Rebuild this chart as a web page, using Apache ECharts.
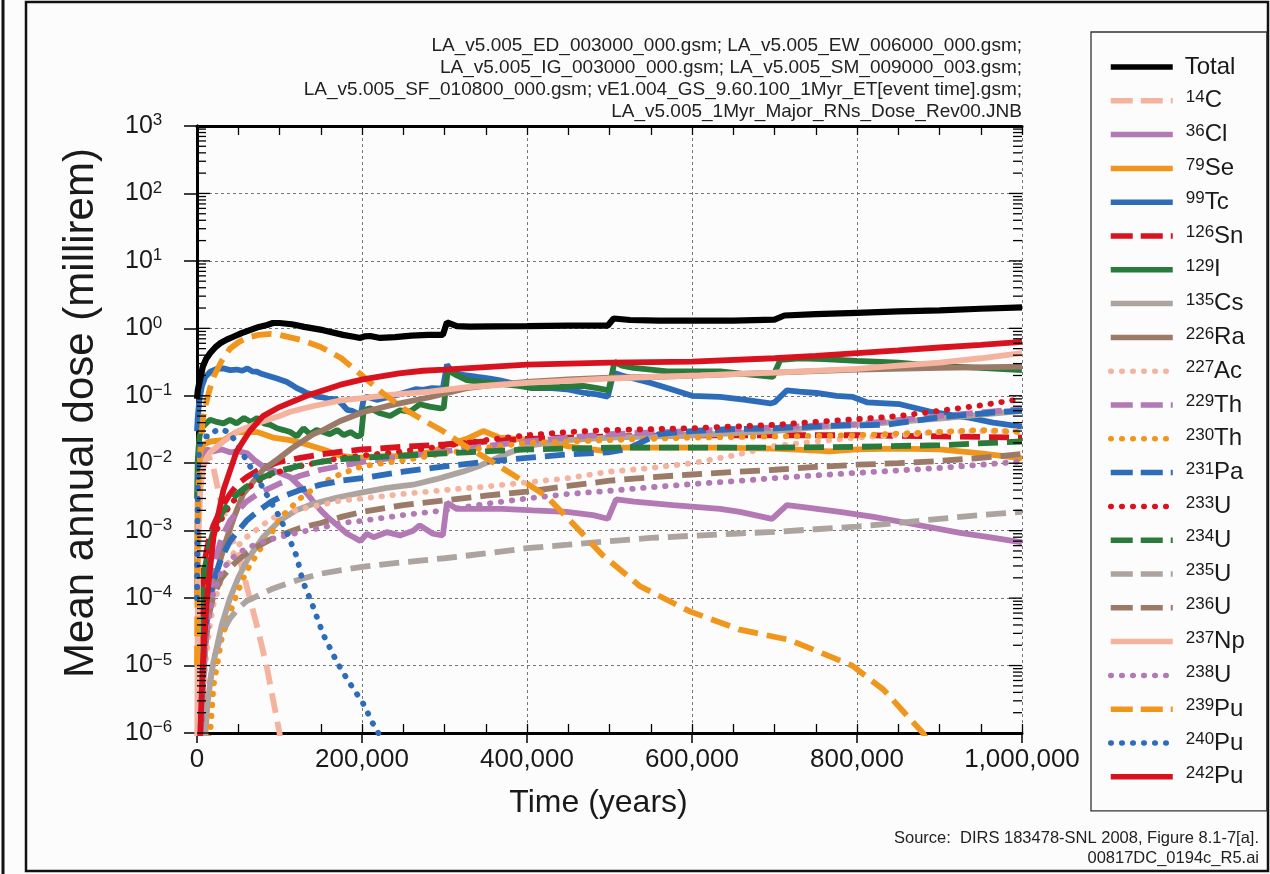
<!DOCTYPE html>
<html>
<head>
<meta charset="utf-8">
<script src="https://cdn.jsdelivr.net/npm/echarts@6/dist/echarts.min.js"></script>
<style>
  html, body { margin: 0; padding: 0; background: #fcfcfc; }
  #chart { width: 1270px; height: 874px; }
</style>
</head>
<body>
<div id="chart"></div>
<script>
// time (years), dose (millirem) pairs
const total = [[0,0.09],[1000,0.12],[2000,0.14],[3600,0.17],[7000,0.27],[11000,0.35],[16000,0.43],[22000,0.52],[28000,0.6],[36000,0.68],[44000,0.75],[54000,0.85],[64000,0.94],[75000,1.05],[85000,1.12],[92000,1.2],[100000,1.2],[115000,1.15],[130000,1.05],[153000,0.94],[177000,0.8],[190000,0.75],[198000,0.72],[203000,0.76],[210000,0.77],[222000,0.72],[240000,0.74],[260000,0.78],[280000,0.8],[298000,0.8],[303000,1.23],[315000,1.08],[330000,1.06],[360000,1.07],[400000,1.08],[450000,1.1],[498000,1.1],[505000,1.4],[525000,1.33],[560000,1.3],[600000,1.3],[650000,1.3],[700000,1.35],[712000,1.55],[750000,1.62],[800000,1.7],[850000,1.78],[900000,1.85],[950000,1.95],[1000000,2.05]];
const c14 = [[0,1e-4],[1000,0.006],[2000,0.012],[4000,0.016],[7000,0.016],[10000,0.015],[15000,0.012],[20000,0.0085],[28000,0.0029],[40000,9.3e-4],[52000,3.7e-4],[64000,1e-4],[75000,3e-5],[85000,9e-6],[100000,1e-6],[110000,1.5e-7]];
const cl36 = [[0,1e-4],[1000,0.002],[2000,0.006],[4000,0.011],[7000,0.014],[12000,0.016],[19000,0.015],[30000,0.016],[40000,0.0145],[50000,0.015],[61000,0.014],[70000,0.011],[80000,0.009],[92000,0.0078],[100000,0.0072],[113000,0.0062],[125000,0.0045],[133000,0.0036],[141000,0.0027],[150000,0.002],[158000,0.0016],[170000,0.0012],[182000,9e-4],[190000,8e-4],[198000,7e-4],[206000,9e-4],[214000,8e-4],[230000,9.5e-4],[246000,8.5e-4],[262000,0.001],[270000,0.0012],[286000,9e-4],[298000,8.5e-4],[303000,0.0026],[315000,0.0021],[340000,0.0021],[370000,0.0021],[407000,0.002],[448000,0.0019],[480000,0.0017],[498000,0.0015],[508000,0.0029],[530000,0.0027],[577000,0.0024],[634000,0.0021],[658000,0.0019],[697000,0.0015],[715000,0.0024],[740000,0.0022],[779000,0.0019],[820000,0.0016],[861000,0.0013],[925000,9.3e-4],[960000,8e-4],[1000000,6.7e-4]];
const se79 = [[0,1e-4],[1000,0.003],[2000,0.009],[4000,0.015],[8000,0.019],[16000,0.021],[32000,0.022],[48000,0.029],[73000,0.029],[92000,0.024],[113000,0.022],[133000,0.019],[153000,0.016],[173000,0.013],[194000,0.012],[213000,0.0125],[245000,0.0128],[286000,0.0147],[305000,0.019],[327000,0.023],[347000,0.03],[367000,0.024],[407000,0.022],[448000,0.018],[498000,0.015],[510000,0.017],[570000,0.017],[634000,0.017],[700000,0.0165],[733000,0.0158],[767000,0.015],[800000,0.016],[850000,0.0165],[900000,0.016],[950000,0.014],[1000000,0.0118]];
const tc99 = [[0,0.03],[1000,0.05],[3000,0.09],[6000,0.14],[10000,0.19],[16000,0.227],[24000,0.25],[32000,0.255],[40000,0.24],[48000,0.245],[55000,0.235],[61000,0.255],[67000,0.23],[73000,0.227],[79000,0.21],[85000,0.2],[91000,0.19],[97000,0.18],[103000,0.17],[109000,0.16],[115000,0.145],[121000,0.13],[127000,0.12],[133000,0.11],[139000,0.105],[145000,0.097],[152000,0.095],[158000,0.091],[164000,0.09],[170000,0.087],[176000,0.075],[182000,0.062],[188000,0.06],[194000,0.055],[199000,0.056],[202000,0.09],[206000,0.097],[212000,0.092],[218000,0.087],[226000,0.092],[234000,0.097],[245000,0.105],[255000,0.115],[265000,0.125],[274000,0.122],[285000,0.13],[298000,0.128],[303000,0.29],[310000,0.22],[318000,0.21],[327000,0.2],[340000,0.19],[355000,0.18],[367000,0.17],[385000,0.15],[407000,0.13],[430000,0.13],[448000,0.125],[470000,0.11],[485000,0.105],[498000,0.097],[505000,0.22],[515000,0.2],[529000,0.18],[550000,0.155],[570000,0.13],[600000,0.1],[634000,0.096],[665000,0.087],[695000,0.077],[700000,0.08],[715000,0.12],[730000,0.115],[751000,0.11],[775000,0.1],[795000,0.096],[812000,0.08],[852000,0.075],[892000,0.057],[933000,0.048],[965000,0.04],[1000000,0.035]];
const sn126 = [[0,1e-9],[1000,1e-6],[2000,1e-5],[4000,5e-5],[7000,2e-4],[10000,4e-4],[15000,8e-4],[20000,0.0012],[30000,0.0022],[40000,0.0035],[50000,0.005],[60000,0.0062],[75000,0.008],[90000,0.0095],[100000,0.0105],[125000,0.012],[150000,0.0135],[175000,0.0148],[200000,0.016],[250000,0.0175],[300000,0.019],[350000,0.021],[400000,0.023],[450000,0.024],[500000,0.025],[600000,0.026],[700000,0.026],[800000,0.026],[900000,0.025],[1000000,0.024]];
const i129 = [[0,0.003],[1000,0.012],[3000,0.025],[7000,0.035],[12000,0.04],[16000,0.044],[24000,0.041],[32000,0.039],[40000,0.044],[48000,0.039],[57000,0.047],[65000,0.041],[73000,0.047],[81000,0.039],[89000,0.037],[97000,0.033],[105000,0.031],[113000,0.029],[121000,0.025],[129000,0.033],[137000,0.027],[145000,0.031],[153000,0.029],[161000,0.027],[170000,0.031],[178000,0.026],[186000,0.029],[194000,0.025],[199000,0.026],[202000,0.061],[210000,0.065],[222000,0.055],[234000,0.05],[246000,0.061],[258000,0.058],[270000,0.075],[282000,0.069],[295000,0.065],[299000,0.066],[304000,0.24],[315000,0.2],[327000,0.17],[345000,0.16],[367000,0.15],[390000,0.14],[407000,0.13],[440000,0.135],[468000,0.14],[485000,0.13],[499000,0.12],[506000,0.32],[515000,0.28],[529000,0.26],[550000,0.245],[570000,0.23],[634000,0.23],[665000,0.21],[698000,0.19],[707000,0.34],[731000,0.36],[760000,0.35],[800000,0.33],[850000,0.31],[892000,0.28],[950000,0.26],[1000000,0.24]];
const cs135 = [[0,1e-10],[3000,1e-8],[8000,4e-7],[13000,3e-6],[19000,1e-5],[30000,4e-5],[40000,1e-4],[50000,2e-4],[61000,3.7e-4],[80000,8e-4],[100000,0.0014],[120000,0.002],[141000,0.0025],[170000,0.0031],[201000,0.0037],[230000,0.0043],[262000,0.0048],[290000,0.0058],[322000,0.0075],[343000,0.0092],[370000,0.013],[400000,0.018],[448000,0.022],[500000,0.024],[560000,0.025],[600000,0.026],[700000,0.03],[750000,0.034],[800000,0.037],[900000,0.046],[1000000,0.06]];
const ra226 = [[0,1e-9],[3000,1e-7],[7000,4e-6],[12000,6e-5],[24000,2.5e-4],[35000,7e-4],[45000,0.0016],[56000,0.0035],[80000,0.008],[100000,0.012],[113000,0.016],[141000,0.027],[153000,0.031],[173000,0.042],[201000,0.057],[234000,0.072],[282000,0.095],[327000,0.13],[360000,0.145],[400000,0.16],[450000,0.175],[500000,0.185],[550000,0.19],[610000,0.2],[700000,0.22],[800000,0.245],[900000,0.26],[1000000,0.27]];
const ac227 = [[0,1e-8],[2000,5e-8],[4000,5e-7],[7000,3e-6],[10000,1e-5],[15000,3.5e-5],[20000,8e-5],[30000,2e-4],[40000,3.8e-4],[50000,6e-4],[60000,8e-4],[75000,0.0011],[90000,0.0015],[100000,0.0017],[125000,0.0021],[150000,0.0024],[175000,0.0028],[200000,0.003],[250000,0.0035],[300000,0.004],[350000,0.0045],[400000,0.0052],[450000,0.006],[500000,0.0075],[550000,0.0085],[600000,0.01],[650000,0.013],[700000,0.018],[750000,0.021],[800000,0.024],[850000,0.026],[900000,0.029],[950000,0.03],[1000000,0.03]];
const th229 = [[0,1e-9],[3000,1e-7],[7000,5e-6],[10000,2e-5],[15000,1e-4],[20000,3e-4],[30000,8e-4],[40000,0.0014],[50000,0.002],[60000,0.0027],[75000,0.0036],[100000,0.005],[125000,0.0065],[150000,0.008],[200000,0.0105],[250000,0.0125],[300000,0.015],[350000,0.018],[400000,0.021],[450000,0.024],[500000,0.027],[600000,0.03],[700000,0.034],[800000,0.038],[900000,0.05],[1000000,0.064]];
const th230 = [[0,1e-9],[4000,5e-8],[10000,5e-7],[16000,1e-6],[20000,5e-6],[30000,2.5e-5],[40000,6e-5],[50000,1.3e-4],[60000,2.5e-4],[75000,5e-4],[90000,9e-4],[100000,0.0015],[125000,0.003],[150000,0.005],[175000,0.007],[200000,0.009],[250000,0.011],[300000,0.014],[350000,0.017],[400000,0.02],[450000,0.021],[500000,0.022],[600000,0.024],[700000,0.025],[800000,0.026],[867000,0.028],[950000,0.031],[1000000,0.029]];
const pa231 = [[0,1e-8],[2000,1e-7],[4000,2e-6],[7000,1e-5],[10000,3e-5],[15000,9e-5],[20000,1.8e-4],[30000,4e-4],[40000,7e-4],[50000,0.001],[60000,0.0014],[75000,0.002],[90000,0.0027],[100000,0.0031],[125000,0.004],[150000,0.0048],[175000,0.0055],[200000,0.006],[250000,0.0075],[300000,0.009],[350000,0.0105],[400000,0.012],[450000,0.0135],[498000,0.0145],[520000,0.016],[560000,0.027],[600000,0.03],[650000,0.032],[700000,0.033],[770000,0.036],[833000,0.037],[900000,0.048],[967000,0.057],[1000000,0.06]];
const u233 = [[0,1e-8],[1000,5e-7],[2000,5e-6],[4000,3e-5],[7000,1.2e-4],[10000,2.5e-4],[15000,5e-4],[20000,8e-4],[30000,0.0015],[40000,0.0024],[50000,0.0033],[60000,0.0042],[75000,0.0055],[90000,0.0068],[100000,0.0075],[125000,0.009],[150000,0.0105],[175000,0.012],[200000,0.013],[250000,0.015],[300000,0.018],[350000,0.022],[400000,0.026],[450000,0.029],[500000,0.031],[550000,0.032],[600000,0.033],[650000,0.035],[700000,0.037],[750000,0.041],[800000,0.045],[850000,0.05],[900000,0.06],[950000,0.072],[1000000,0.09]];
const u234 = [[0,1e-8],[1000,1e-6],[2000,8e-6],[4000,4e-5],[7000,1.5e-4],[10000,3e-4],[15000,6e-4],[20000,0.001],[30000,0.0018],[40000,0.0027],[50000,0.0036],[60000,0.0045],[75000,0.0058],[90000,0.007],[100000,0.0077],[125000,0.0092],[150000,0.0105],[175000,0.0115],[200000,0.012],[250000,0.013],[300000,0.014],[350000,0.015],[400000,0.016],[450000,0.0165],[500000,0.017],[600000,0.017],[700000,0.017],[800000,0.0175],[900000,0.0185],[1000000,0.021]];
const u235 = [[0,1e-10],[1000,1e-9],[2000,1e-8],[4000,1e-7],[7000,5e-7],[10000,1.5e-6],[15000,5e-6],[20000,1.2e-5],[30000,3e-5],[40000,5e-5],[50000,7e-5],[60000,9e-5],[75000,1.1e-4],[90000,1.35e-4],[100000,1.5e-4],[125000,1.9e-4],[150000,2.3e-4],[175000,2.6e-4],[200000,2.9e-4],[250000,3.4e-4],[300000,3.9e-4],[350000,4.6e-4],[400000,5.5e-4],[450000,6.2e-4],[500000,7e-4],[550000,7.8e-4],[600000,8.4e-4],[650000,9e-4],[700000,9.6e-4],[750000,0.00105],[800000,0.00115],[850000,0.0013],[900000,0.0015],[950000,0.0017],[1000000,0.0019]];
const u236 = [[0,1e-9],[1000,1e-8],[2000,1e-7],[4000,1e-6],[7000,6e-6],[10000,2e-5],[15000,6e-5],[20000,1.1e-4],[30000,2e-4],[40000,2.8e-4],[50000,3.7e-4],[60000,4.6e-4],[75000,6e-4],[90000,7.5e-4],[100000,8.5e-4],[125000,0.0011],[150000,0.0013],[175000,0.0016],[200000,0.0019],[250000,0.0024],[300000,0.0028],[350000,0.0033],[400000,0.0038],[450000,0.0046],[500000,0.0055],[550000,0.0062],[600000,0.0068],[650000,0.0074],[700000,0.008],[750000,0.0088],[800000,0.0095],[850000,0.01],[900000,0.0108],[950000,0.012],[1000000,0.0137]];
const np237 = [[0,1e-7],[1000,1e-4],[2000,0.001],[4000,0.004],[7000,0.008],[10000,0.011],[15000,0.014],[20000,0.016],[32000,0.021],[50000,0.03],[73000,0.039],[100000,0.05],[113000,0.058],[140000,0.07],[173000,0.085],[200000,0.092],[234000,0.103],[282000,0.115],[330000,0.135],[400000,0.155],[497000,0.18],[550000,0.19],[610000,0.2],[700000,0.22],[800000,0.25],[850000,0.28],[900000,0.31],[950000,0.36],[1000000,0.43]];
const u238 = [[0,1e-9],[1000,1e-8],[2000,1e-7],[4000,1e-6],[7000,6e-6],[10000,2e-5],[15000,6e-5],[20000,1.2e-4],[30000,2.5e-4],[40000,3.7e-4],[50000,4.6e-4],[60000,5.5e-4],[75000,6.5e-4],[90000,7.5e-4],[100000,8e-4],[125000,9.5e-4],[150000,0.0011],[175000,0.0013],[200000,0.0014],[250000,0.0017],[300000,0.002],[350000,0.0025],[400000,0.003],[450000,0.0035],[500000,0.0039],[550000,0.0044],[600000,0.0049],[650000,0.0054],[700000,0.006],[750000,0.0066],[800000,0.0072],[850000,0.0078],[900000,0.0085],[950000,0.0095],[1000000,0.0106]];
const pu239 = [[0,1e-5],[1000,0.001],[2000,0.005],[4000,0.015],[7000,0.044],[10000,0.07],[15000,0.12],[20000,0.19],[30000,0.33],[40000,0.5],[50000,0.62],[60000,0.72],[75000,0.8],[90000,0.83],[100000,0.8],[125000,0.68],[150000,0.53],[175000,0.36],[200000,0.2],[225000,0.11],[250000,0.065],[275000,0.043],[298000,0.03],[325000,0.018],[350000,0.012],[400000,0.005],[424000,0.0032],[450000,0.0015],[492000,4.3e-4],[537000,1.5e-4],[598000,6.3e-5],[658000,3.4e-5],[718000,2.4e-5],[759000,1.5e-5],[794000,1e-5],[832000,4.4e-6],[880000,1e-6],[920000,1.5e-7]];
const pu240 = [[0,1e-4],[1000,0.005],[2000,0.012],[4000,0.02],[7000,0.024],[10000,0.025],[16000,0.025],[22000,0.03],[30000,0.032],[40000,0.028],[50000,0.018],[60000,0.011],[75000,0.0055],[90000,0.0026],[100000,0.0016],[109000,9.3e-4],[121000,4.1e-4],[128000,1.8e-4],[139000,8.5e-5],[153000,2.9e-5],[170000,1.1e-5],[185000,5.5e-6],[201000,2.8e-6],[213000,1.4e-6],[230000,6e-7]];
const pu242 = [[0,1e-9],[2000,1e-7],[4000,1e-6],[7000,1e-5],[12000,1e-4],[20000,8e-4],[32000,0.004],[48000,0.015],[64000,0.03],[80000,0.05],[100000,0.068],[133000,0.1],[173000,0.145],[201000,0.175],[245000,0.215],[274000,0.235],[300000,0.245],[400000,0.29],[500000,0.31],[600000,0.32],[700000,0.36],[750000,0.39],[800000,0.43],[850000,0.47],[900000,0.52],[950000,0.57],[1000000,0.63]];

const timeTicks = [0, 200000, 400000, 600000, 800000, 1000000];

const salmon = '#f4b39f', mauve = '#b279b5', orange = '#f1961c', blue = '#2c6cb9',
      red = '#d8131f', green = '#2a7a3b', gray = '#ada39f', brown = '#9b7a68';

// name, mass number, element, colour, style, data
const curves = [
  ['Total', '', 'Total', '#000000', 'solid', total],
  ['14C', '14', 'C', salmon, 'dashed', c14],
  ['36Cl', '36', 'Cl', mauve, 'solid', cl36],
  ['79Se', '79', 'Se', orange, 'solid', se79],
  ['99Tc', '99', 'Tc', blue, 'solid', tc99],
  ['126Sn', '126', 'Sn', red, 'dashed', sn126],
  ['129I', '129', 'I', green, 'solid', i129],
  ['135Cs', '135', 'Cs', gray, 'solid', cs135],
  ['226Ra', '226', 'Ra', brown, 'solid', ra226],
  ['227Ac', '227', 'Ac', salmon, 'dotted', ac227],
  ['229Th', '229', 'Th', mauve, 'dashed', th229],
  ['230Th', '230', 'Th', orange, 'dotted', th230],
  ['231Pa', '231', 'Pa', blue, 'dashed', pa231],
  ['233U', '233', 'U', red, 'dotted', u233],
  ['234U', '234', 'U', green, 'dashed', u234],
  ['235U', '235', 'U', gray, 'dashed', u235],
  ['236U', '236', 'U', brown, 'dashed', u236],
  ['237Np', '237', 'Np', salmon, 'solid', np237],
  ['238U', '238', 'U', mauve, 'dotted', u238],
  ['239Pu', '239', 'Pu', orange, 'dashed', pu239],
  ['240Pu', '240', 'Pu', blue, 'dotted', pu240],
  ['242Pu', '242', 'Pu', red, 'solid', pu242]
];

const FONT = '"Liberation Sans", Arial, sans-serif';
const XMIN = 0, XMAX = 1000000;

const dashFor = style => style === 'dashed' ? [20, 9] : style === 'dotted' ? [0.5, 10.5] : 'solid';

const lineSeries = curves.map(([name, mass, el, color, style, data]) => ({
  name: name,
  type: 'line',
  data: data,
  symbol: 'none',
  showSymbol: false,
  z: name === 'Total' ? 4 : 3,
  lineStyle: {
    color: color,
    width: name === 'Total' ? 6.2 : 5.8,
    type: dashFor(style),
    cap: style === 'dotted' ? 'round' : 'butt'
  },
  itemStyle: { color: color },
  emphasis: { disabled: true }
}));

// log minor ticks on the left and right frame
const minorTicks = [];
for (let n = -6; n <= 2; n++) {
  for (let k = 1; k <= 9; k++) minorTicks.push([XMIN, k * Math.pow(10, n), k === 1 ? 13 : 9]);
}
minorTicks.push([XMIN, 1000, 13]);

const tickSeries = {
  type: 'custom',
  silent: true,
  clip: false,
  z: 6,
  data: minorTicks,
  encode: { x: 0, y: 1 },
  renderItem: function (params, api) {
    const v = api.value(1), len = api.value(2);
    const l = api.coord([XMIN, v]);
    const r = api.coord([XMAX, v]);
    const st = { stroke: '#000', lineWidth: 1.3 };
    return {
      type: 'group',
      children: [
        { type: 'line', shape: { x1: l[0], y1: l[1], x2: l[0] + len, y2: l[1] }, style: st },
        { type: 'line', shape: { x1: r[0] - len, y1: r[1], x2: r[0], y2: r[1] }, style: st }
      ]
    };
  }
};

const gridLine = { show: true, lineStyle: { color: '#777', width: 1, type: [3, 3] } };

const chart = echarts.init(document.getElementById('chart'), null, { renderer: 'canvas' });
chart.setOption({
  animation: false,
  backgroundColor: '#fcfcfc',
  textStyle: { fontFamily: FONT },
  grid: { left: 197, right: 248, top: 126, bottom: 141 },
  xAxis: [
    {
      type: 'value', position: 'bottom', min: XMIN, max: XMAX, interval: 200000,
      axisLine: { lineStyle: { color: '#000', width: 3 } },
      axisTick: { inside: false, length: 10, lineStyle: { color: '#000', width: 1.5 } },
      axisLabel: {
        fontSize: 26, color: '#1a1a1a', margin: 14, fontFamily: FONT,
        formatter: v => timeTicks.indexOf(v) >= 0 ? v.toLocaleString('en-US') : ''
      },
      splitLine: gridLine,
      name: 'Time (years)', nameLocation: 'middle', nameGap: 54,
      nameTextStyle: { fontSize: 32, color: '#1a1a1a', fontFamily: FONT, padding: [0, 22, 0, 0] }
    },
    {
      type: 'value', position: 'bottom', min: XMIN, max: XMAX, interval: 50000,
      axisLine: { show: false },
      axisTick: { inside: true, length: 9, lineStyle: { color: '#000', width: 1.3 } },
      axisLabel: { show: false }, splitLine: { show: false }
    },
    {
      type: 'value', position: 'top', min: XMIN, max: XMAX, interval: 50000,
      axisLine: { lineStyle: { color: '#000', width: 3 } },
      axisTick: { inside: true, length: 9, lineStyle: { color: '#000', width: 1.3 } },
      axisLabel: { show: false }, splitLine: { show: false }
    }
  ],
  yAxis: [
    {
      type: 'log', logBase: 10, min: 1e-6, max: 1e3, splitNumber: 9, position: 'left',
      axisLine: { lineStyle: { color: '#000', width: 3 } },
      axisTick: { inside: false, length: 13, lineStyle: { color: '#000', width: 1.5 } },
      minorTick: { show: false },
      axisLabel: {
        margin: 72, align: 'left', color: '#1a1a1a',
        formatter: function (v) {
          const e = Math.round(Math.log10(v));
          return '{b|10}{s|' + (e < 0 ? '\u2212' + (-e) : e) + '}';
        },
        rich: {
          b: { fontSize: 25, lineHeight: 28, fontFamily: FONT, color: '#1a1a1a' },
          s: { fontSize: 17, lineHeight: 17, verticalAlign: 'top', fontFamily: FONT, color: '#1a1a1a' }
        }
      },
      splitLine: gridLine
    },
    {
      type: 'log', logBase: 10, min: 1e-6, max: 1e3, splitNumber: 9, position: 'right',
      axisLine: { lineStyle: { color: '#000', width: 3 } },
      axisTick: { show: false }, axisLabel: { show: false }, splitLine: { show: false }
    }
  ],
  legend: {
    orient: 'vertical',
    left: 1091, top: 32,
    padding: [23, 22, 22, 17],
    itemGap: 9.8,
    itemWidth: 62,
    itemHeight: 14,
    selectedMode: false,
    borderColor: '#333',
    borderWidth: 1.3,
    backgroundColor: '#fcfcfc',
    itemStyle: { color: 'rgba(0,0,0,0)', borderWidth: 0, opacity: 0 },
    lineStyle: { width: 5.5 },
    data: curves.map(c => ({
      name: c[0],
      lineStyle: { type: c[4] === 'dashed' ? [22, 8] : c[4] === 'dotted' ? [0.5, 10.5] : 'solid' }
    })),
    formatter: function (name) {
      const c = curves.find(x => x[0] === name);
      if (!c[1]) return '{t|' + c[2] + '}';
      return '{m|' + c[1] + '}{e|' + c[2] + '}';
    },
    textStyle: {
      rich: {
        m: { fontSize: 17, lineHeight: 17, verticalAlign: 'top', padding: [0, 0, 0, 8], fontFamily: FONT, color: '#1a1a1a' },
        e: { fontSize: 24, lineHeight: 24, fontFamily: FONT, color: '#1a1a1a' },
        t: { fontSize: 24, lineHeight: 24, padding: [0, 0, 0, 7], fontFamily: FONT, color: '#1a1a1a' }
      }
    }
  },
  graphic: [
    { type: 'rect', shape: { x: 26, y: 2, width: 1242, height: 869 }, style: { fill: 'none', stroke: '#111', lineWidth: 2.5 }, silent: true },
    { type: 'line', shape: { x1: 3, y1: 0, x2: 3, y2: 874 }, style: { stroke: '#111', lineWidth: 3 }, silent: true },
    {
      type: 'text', x: 81, y: 413, rotation: Math.PI / 2, silent: true,
      style: {
        text: 'Mean annual dose (millirem)', font: '42px ' + FONT, fill: '#1a1a1a',
        align: 'center', textAlign: 'center', verticalAlign: 'middle', textVerticalAlign: 'middle'
      }
    },
    {
      type: 'text', x: 1022, y: 35, silent: true,
      style: {
        text: 'LA_v5.005_ED_003000_000.gsm; LA_v5.005_EW_006000_000.gsm;\nLA_v5.005_IG_003000_000.gsm; LA_v5.005_SM_009000_003.gsm;\nLA_v5.005_SF_010800_000.gsm; vE1.004_GS_9.60.100_1Myr_ET[event time].gsm;\nLA_v5.005_1Myr_Major_RNs_Dose_Rev00.JNB',
        font: '19px ' + FONT, fill: '#222', align: 'right', textAlign: 'right', lineHeight: 22
      }
    },
    {
      type: 'text', x: 1259, y: 828, silent: true,
      style: {
        text: 'Source:  DIRS 183478-SNL 2008, Figure 8.1-7[a].\n00817DC_0194c_R5.ai',
        font: '16.5px ' + FONT, fill: '#222', align: 'right', textAlign: 'right', lineHeight: 20
      }
    }
  ],
  series: lineSeries.concat([tickSeries])
});
</script>
</body>
</html>
